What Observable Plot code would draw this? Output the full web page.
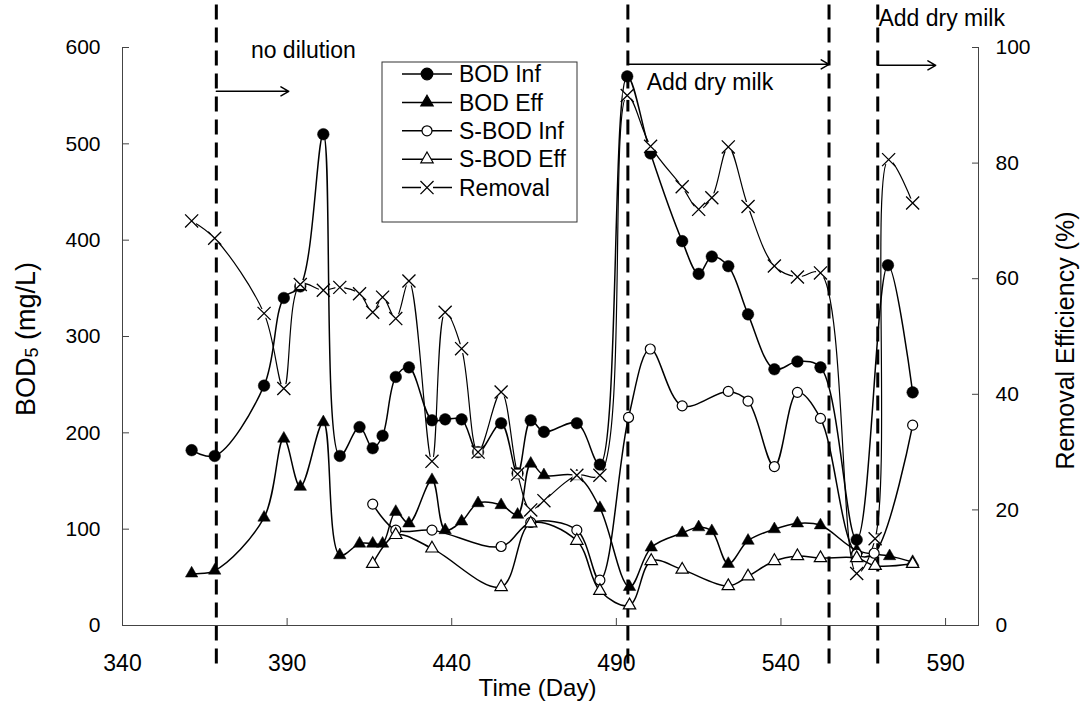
<!DOCTYPE html>
<html><head><meta charset="utf-8">
<script src="https://cdn.jsdelivr.net/npm/d3@7"></script>
<script src="https://cdn.jsdelivr.net/npm/@observablehq/plot@0.6"></script>
<style>
body{margin:0;background:#fff;}
#chart{width:1086px;height:711px;}
</style></head><body><div id="chart"></div>
<script>
// ---- data (day, value) ----
const xTicks = [340, 390, 440, 490, 540, 590];
const yTicks = [0, 100, 200, 300, 400, 500, 600];
const pctTicks = [0, 20, 40, 60, 80, 100];

const bodInf = [[361,182],[368,176],[383,249],[389,340],[394,352],[401,510],[406,176],[412,206],[416,184],[419,197],[423,258],[427,268],[434,213],[438,214],[443,214],[448,180],[455,210],[460,158],[464,213],[468,201],[478,210],[485,167],[493.3,570],[500.4,490],[510,399],[515,365],[519,383],[524,373],[530,323],[538,266],[545,274],[552,268],[563,89],[572.5,374],[580,242]];
const bodEff = [[361,54],[368,57],[383,112],[389,194],[394,144],[401,211],[406,73],[412,85],[416,85],[419,85],[423,118],[427,106],[434,151],[438,99],[443,108],[448,127],[455,125],[460,115],[464,168],[468,156],[478,155],[485,122],[494,40],[500.6,81],[510,96],[515,102],[519,98],[524,64],[530,88],[538,100],[545,106],[552,104],[563,78],[573,72],[580,66]];
const sbodInf = [[416,126],[423,99],[434,99],[455,82],[464,107],[478,99],[485,47],[493.7,216],[500.3,287],[510,228],[524,243],[530,233],[538,165],[545,242],[552,215],[563,74],[568.3,75],[580,208]];
const sbodEff = [[416,64],[423,94],[434,80],[455,40],[464,106],[478,88],[485,36],[494,21],[500.6,67],[510,58],[524,41],[530,51],[538,67],[545,72],[552,70],[563,70],[568.6,62],[580,64]];
const removal = [[361,70],[368,67],[383,54],[389,41],[394,59],[401,58],[406,58.5],[412,57.4],[416,54.2],[419,56.8],[423,53.1],[427,59.6],[434,28.4],[438,54.2],[443,47.9],[448,30],[455,40.4],[460,26.2],[464,20],[468,21.6],[478,26],[485,26],[493.3,91.7],[500.4,82.9],[510,75.9],[515,72],[519,74],[524,82.8],[530,72.5],[538,62.2],[545,60.3],[552,61],[563,9],[568.6,15],[572.7,80.6],[580,73.1]];

const phaseDays = [368.5, 493.5, 554.6, 569.4];
const arrows = [{x1:368.5,x2:390.5,y:554.5},{x1:493.5,x2:554.6,y:582.5},{x1:569.4,x2:587,y:581.5}];
const notes = [{x:379,y:597,text:"no dilution"},{x:499.2,y:564,text:"Add dry milk"},{x:569.6,y:630,text:"Add dry milk"}];
const legendNames = ["BOD Inf","BOD Eff","S-BOD Inf","S-BOD Eff","Removal"];

const FONT = "'Liberation Sans', Arial, sans-serif";
const PCT = 6; // 100% on right axis = 600 on left axis
const rows = (a, k = 1) => a.map(([d, v]) => ({day: d, v: v * k}));
const R = {bi: rows(bodInf), be: rows(bodEff), si: rows(sbodInf), se: rows(sbodEff), rm: rows(removal, PCT)};
const L = {x: "day", y: "v", curve: "catmull-rom", stroke: "black", strokeWidth: 1.5};

const svg = Plot.plot({
  width: 1086, height: 711,
  marginLeft: 122, marginRight: 108, marginTop: 47, marginBottom: 86,
  style: {fontFamily: FONT, background: "white", overflow: "visible", color: "black"},
  x: {domain: [340, 600]},
  y: {domain: [0, 600]},
  marks: [
    Plot.ruleX(phaseDays, {y1: -40, y2: 644, stroke: "black", strokeWidth: 3, strokeDasharray: "15,8"}),
    Plot.ruleX([340, 600], {stroke: "#444", strokeWidth: 1}),
    Plot.ruleY([0], {stroke: "#444", strokeWidth: 1}),
    Plot.axisX({ticks: xTicks, tickSize: -7, fill: "none", stroke: "#444"}),
    Plot.axisX({ticks: xTicks, tickSize: 0, tickPadding: 29, fontSize: 23, label: null, tickFormat: d => String(d)}),
    Plot.axisY({ticks: yTicks, tickSize: -7, fill: "none", stroke: "#444"}),
    Plot.axisY({ticks: yTicks, tickSize: 0, tickPadding: 22, fontSize: 21, label: null}),
    Plot.axisY({anchor: "right", ticks: pctTicks.map(p => p * PCT), tickSize: -7, fill: "none", stroke: "#444"}),
    Plot.axisY({anchor: "right", ticks: pctTicks.map(p => p * PCT), tickSize: 0, tickPadding: 17, fontSize: 21, label: null, tickFormat: d => String(d / PCT)}),
    Plot.line(R.bi, L),
    Plot.line(R.be, L),
    Plot.line(R.si, L),
    Plot.line(R.se, L),
    Plot.line(R.rm, {...L, strokeWidth: 1.2}),
    Plot.dot(R.bi, {x: "day", y: "v", r: 5.8, fill: "black", stroke: "black", strokeWidth: 0.5}),
    Plot.dot(R.be, {x: "day", y: "v", symbol: "triangle", r: 4.6, fill: "black", stroke: "black", strokeWidth: 0.5}),
    Plot.dot(R.si, {x: "day", y: "v", r: 5, fill: "white", stroke: "black", strokeWidth: 1.2}),
    Plot.dot(R.se, {x: "day", y: "v", symbol: "triangle", r: 4.6, fill: "white", stroke: "black", strokeWidth: 1.2}),
    Plot.dot(R.rm, {x: "day", y: "v", symbol: "square", r: 5, fill: "white", stroke: "none"}),
    Plot.dot(R.rm, {x: "day", y: "v", symbol: "times", r: 6, stroke: "black", strokeWidth: 1.3}),
    Plot.arrow(arrows, {x1: "x1", x2: "x2", y1: "y", y2: "y", headLength: 9, strokeWidth: 1.5, stroke: "black"}),
    Plot.text(notes, {x: "x", y: "y", text: "text", textAnchor: "start", fontSize: 23, fill: "black"}),
    Plot.text(["Time (Day)"], {frameAnchor: "bottom", textAnchor: "middle", lineAnchor: "middle", dy: 63, dx: -13, fontSize: 24, fill: "black"}),
    Plot.text(["Removal Efficiency (%)"], {frameAnchor: "right", textAnchor: "middle", lineAnchor: "middle", dx: 87, dy: 4, rotate: -90, fontSize: 25, fill: "black"})
  ]
});

const g = d3.select(svg).append("g").attr("font-family", FONT).attr("text-anchor", "start");
// left axis title with subscript
const t = g.append("text").attr("transform", "translate(26,339) rotate(-90)")
  .attr("text-anchor", "middle").attr("dominant-baseline", "central").attr("font-size", 27);
t.append("tspan").text("BOD");
t.append("tspan").attr("font-size", 18).attr("dy", 6).text("5");
t.append("tspan").attr("dy", -6).text(" (mg/L)");

// legend
g.append("rect").attr("x", 382).attr("y", 62).attr("width", 195).attr("height", 160)
  .attr("fill", "white").attr("stroke", "#333").attr("stroke-width", 1);
const sym = [
  {type: d3.symbolCircle, r: 5.8, fill: "black"},
  {type: d3.symbolTriangle, r: 4.6, fill: "black"},
  {type: d3.symbolCircle, r: 5, fill: "white"},
  {type: d3.symbolTriangle, r: 4.6, fill: "white"},
  {type: d3.symbolTimes, r: 6, fill: "none"}
];
legendNames.forEach((name, i) => {
  const y = 74 + i * 28.4;
  const s = sym[i];
  g.append("line").attr("x1", 402).attr("x2", 452).attr("y1", y).attr("y2", y)
    .attr("stroke", "black").attr("stroke-width", 1.5);
  if (i === 4) g.append("rect").attr("x", 421).attr("y", y - 5).attr("width", 12).attr("height", 10).attr("fill", "white");
  g.append("path").attr("transform", `translate(427,${y})`)
    .attr("d", d3.symbol(s.type, Math.PI * s.r * s.r)())
    .attr("fill", s.fill).attr("stroke", "black").attr("stroke-width", i === 4 ? 1.3 : 1.2);
  g.append("text").attr("x", 459).attr("y", y).attr("dy", "0.36em").attr("text-anchor", "start")
    .attr("font-size", 23).text(name);
});

document.getElementById("chart").appendChild(svg);
</script>
</body></html>
